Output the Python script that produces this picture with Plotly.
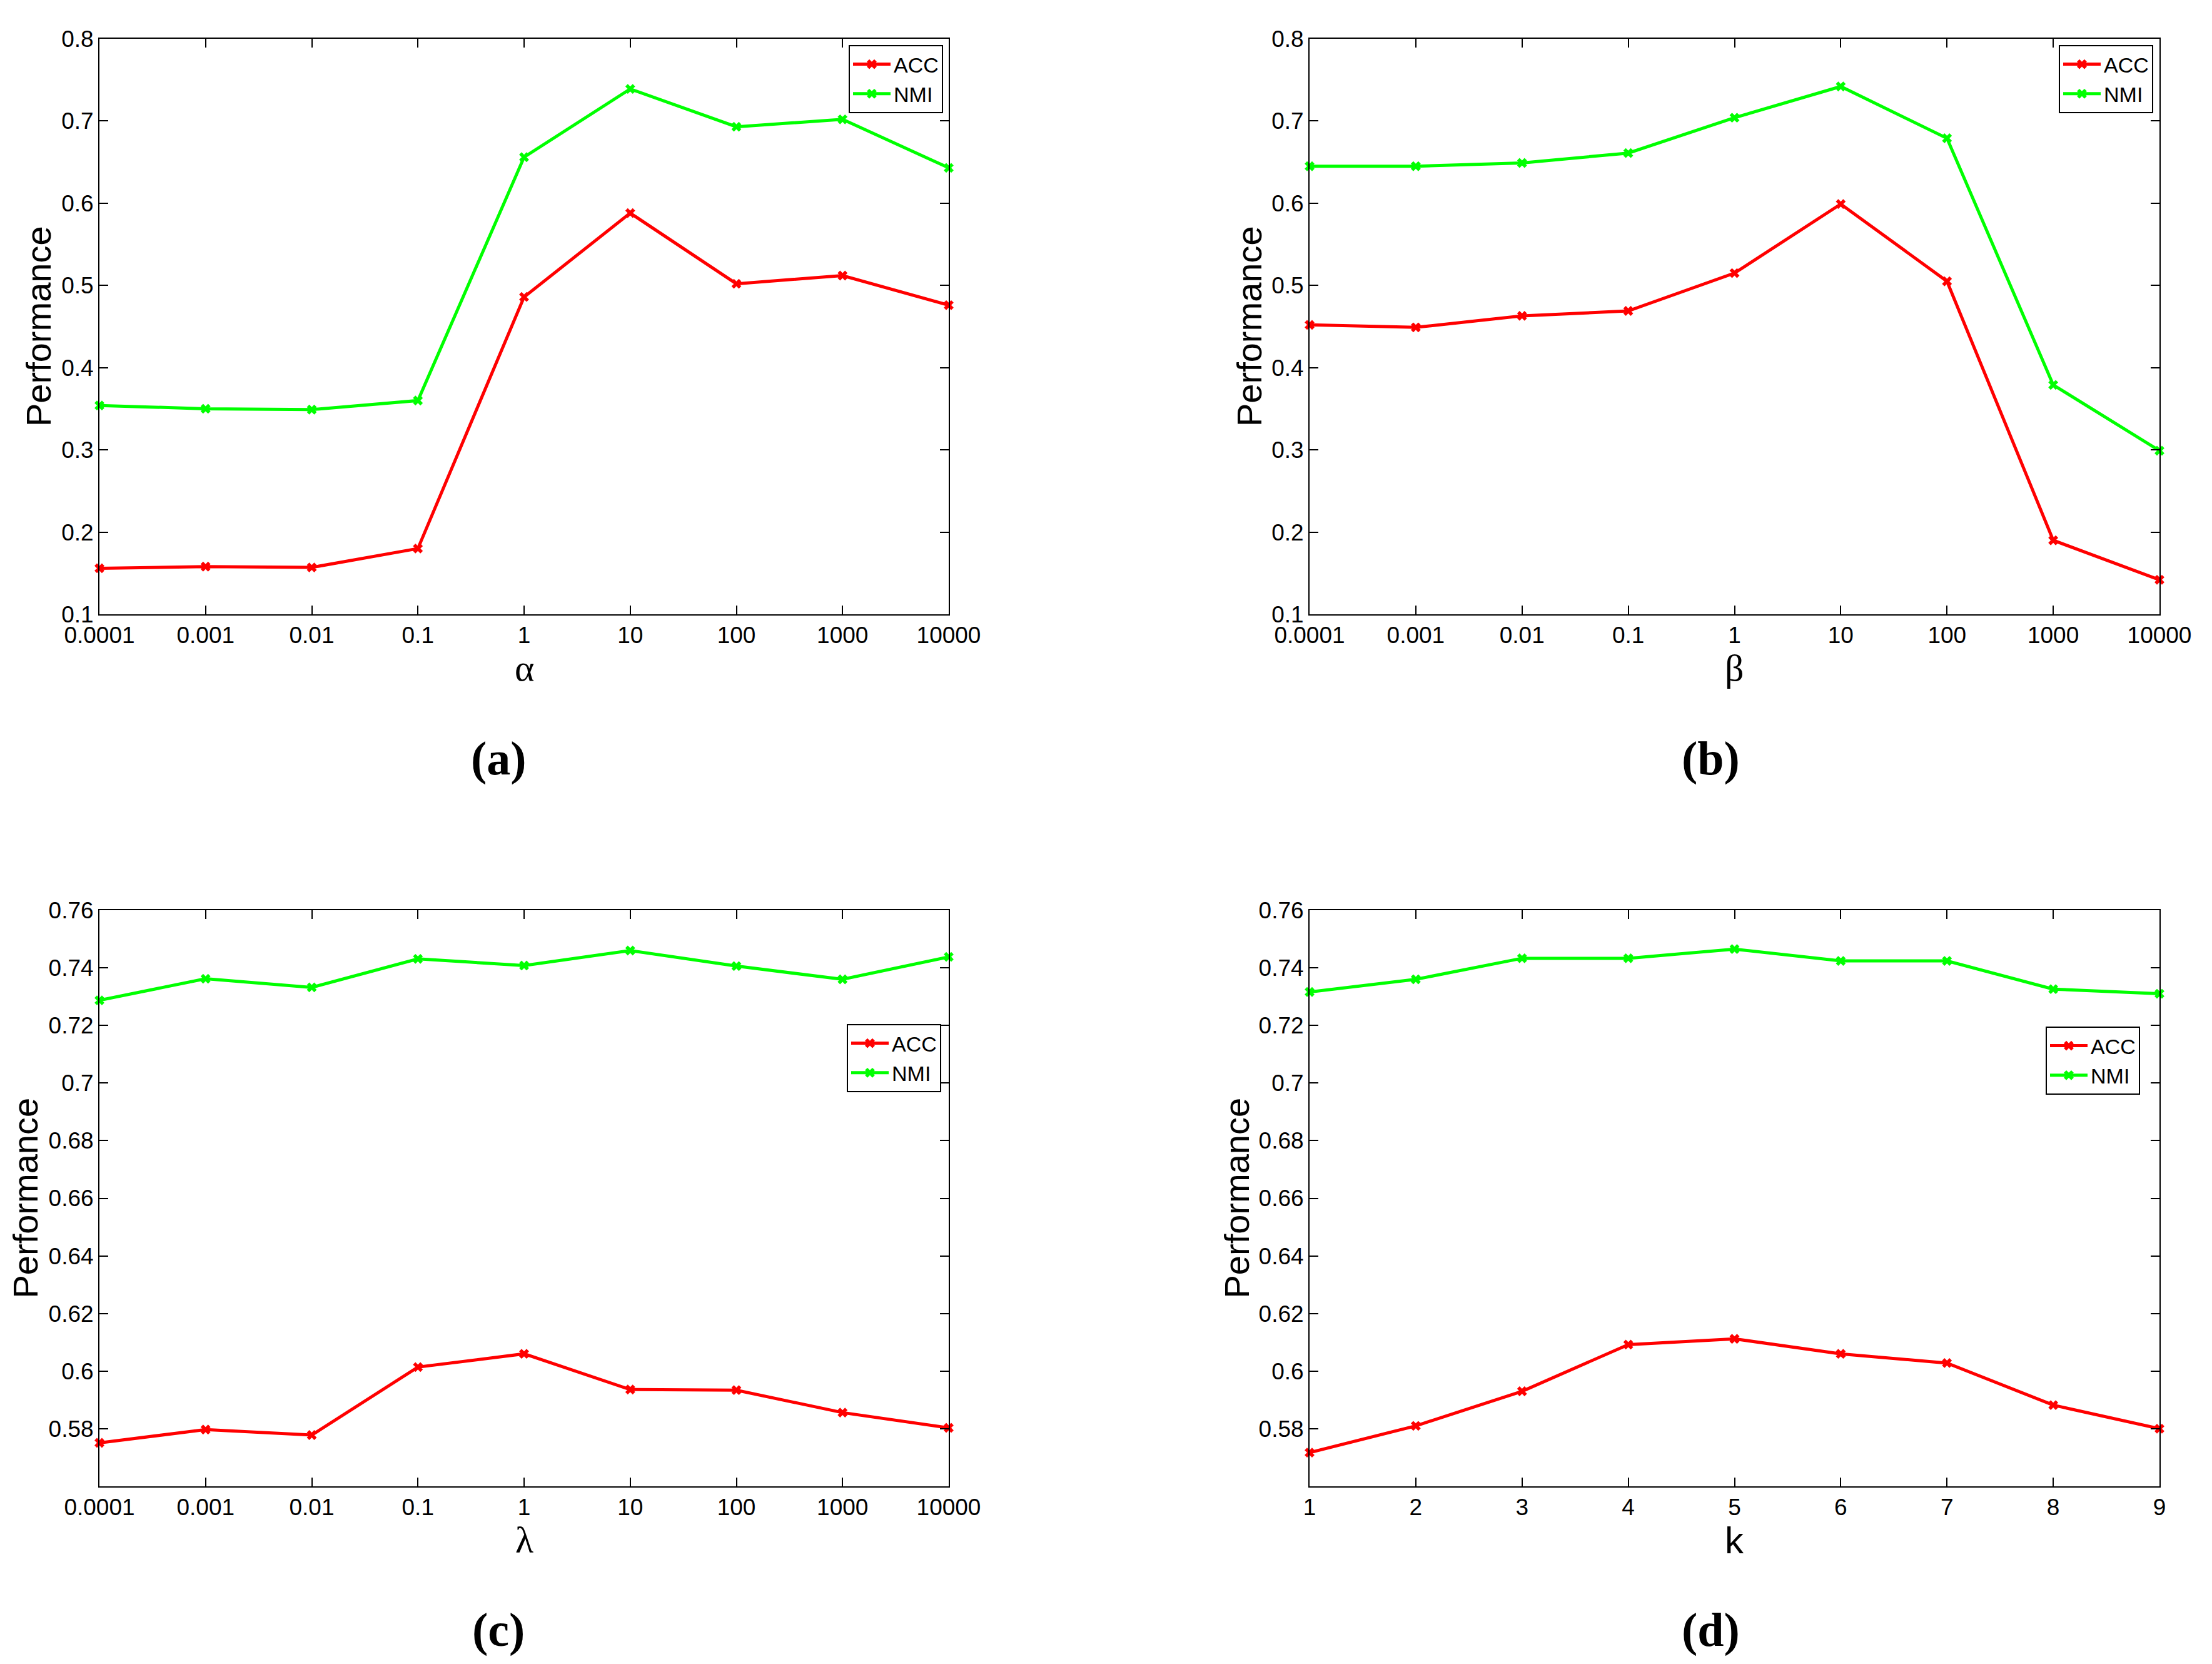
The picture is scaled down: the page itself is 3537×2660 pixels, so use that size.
import plotly.graph_objects as go

# parameter grids
log_x = [0.0001, 0.001, 0.01, 0.1, 1, 10, 100, 1000, 10000]
log_labels = ['0.0001', '0.001', '0.01', '0.1', '1', '10', '100', '1000', '10000']
k_x = [1, 2, 3, 4, 5, 6, 7, 8, 9]
k_labels = ['1', '2', '3', '4', '5', '6', '7', '8', '9']

# (a) alpha
acc_alpha = [0.156, 0.158, 0.157, 0.180, 0.486, 0.588, 0.502, 0.512, 0.476]
nmi_alpha = [0.354, 0.350, 0.349, 0.360, 0.656, 0.739, 0.693, 0.702, 0.643]
# (b) beta
acc_beta = [0.452, 0.449, 0.463, 0.469, 0.515, 0.599, 0.505, 0.190, 0.142]
nmi_beta = [0.645, 0.645, 0.649, 0.661, 0.704, 0.742, 0.679, 0.379, 0.299]
# (c) lambda
acc_lambda = [0.5751, 0.5797, 0.5778, 0.6014, 0.6060, 0.5936, 0.5934, 0.5856, 0.5803]
nmi_lambda = [0.7287, 0.7362, 0.7332, 0.7431, 0.7408, 0.7460, 0.7406, 0.7360, 0.7438]
# (d) k
acc_k = [0.5717, 0.5810, 0.5930, 0.6092, 0.6112, 0.6060, 0.6028, 0.5882, 0.5800]
nmi_k = [0.7316, 0.7360, 0.7433, 0.7433, 0.7465, 0.7424, 0.7424, 0.7326, 0.7310]

ticks_top = [0.1, 0.2, 0.3, 0.4, 0.5, 0.6, 0.7, 0.8]
ticks_bot = [0.58, 0.60, 0.62, 0.64, 0.66, 0.68, 0.70, 0.72, 0.74, 0.76]
tick_text_bot = ['0.58', '0.6', '0.62', '0.64', '0.66', '0.68', '0.7', '0.72', '0.74', '0.76']

W, H = 3537, 2660
OFF = 8  # page body margin
SANS = 'Liberation Sans, Arial, sans-serif'
SERIF = 'Liberation Serif, Times New Roman, serif'


def px(x):
    return (x - OFF) / W


def py(y):
    return 1 - (y - OFF) / H


panels = [
    dict(xs=log_x, xl=log_labels, acc=acc_alpha, nmi=nmi_alpha, title='α', tfont=SERIF,
         dom_x=(159, 1517), dom_y=(62, 982), yr=(0.1, 0.8), yt=ticks_top, ytt=None,
         ytitle_x=61, leg=(1508, 72), tag='(a)', tag_pos=(797, 1212)),
    dict(xs=log_x, xl=log_labels, acc=acc_beta, nmi=nmi_beta, title='β', tfont=SERIF,
         dom_x=(2094, 3453), dom_y=(62, 982), yr=(0.1, 0.8), yt=ticks_top, ytt=None,
         ytitle_x=1997, leg=(3443, 72), tag='(b)', tag_pos=(2735, 1212)),
    dict(xs=log_x, xl=log_labels, acc=acc_lambda, nmi=nmi_lambda, title='λ', tfont=SERIF,
         dom_x=(159, 1517), dom_y=(1455, 2376), yr=(0.56, 0.76), yt=ticks_bot, ytt=tick_text_bot,
         ytitle_x=40, leg=(1505, 1637), tag='(c)', tag_pos=(797, 2605)),
    dict(xs=k_x, xl=k_labels, acc=acc_k, nmi=nmi_k, title='k', tfont=SANS,
         dom_x=(2094, 3453), dom_y=(1455, 2376), yr=(0.56, 0.76), yt=ticks_bot, ytt=tick_text_bot,
         ytitle_x=1977, leg=(3422, 1641), tag='(d)', tag_pos=(2735, 2605)),
]

fig = go.Figure()
layout = dict(width=W, height=H, margin=dict(l=0, r=0, t=0, b=0, autoexpand=False),
              paper_bgcolor='white', plot_bgcolor='white',
              font=dict(family=SANS, color='black'), showlegend=True, annotations=[])

for i, p in enumerate(panels, start=1):
    sfx = '' if i == 1 else str(i)
    leg_name = 'legend' + sfx
    for name, vals, col in [('ACC', p['acc'], '#ff0000'), ('NMI', p['nmi'], '#00ff00')]:
        fig.add_trace(go.Scatter(
            x=p['xs'], y=vals, name=name, mode='lines+markers',
            line=dict(color=col, width=5),
            marker=dict(symbol='x', size=14, color=col),
            xaxis='x' + sfx, yaxis='y' + sfx, legend=leg_name, cliponaxis=False))

    is_log = p['xs'] is log_x
    layout['xaxis' + sfx] = dict(
        domain=[px(p['dom_x'][0]), px(p['dom_x'][1])], anchor='y' + sfx,
        type='log' if is_log else 'linear',
        range=[-4, 4] if is_log else [1, 9],
        tickvals=p['xs'], ticktext=p['xl'], automargin=False,
        ticks='inside', ticklen=14, tickwidth=2, tickcolor='black',
        showline=True, linecolor='black', linewidth=2, mirror='allticks',
        showgrid=False, zeroline=False,
        tickfont=dict(family=SANS, size=37, color='black'))
    layout['yaxis' + sfx] = dict(
        domain=[py(p['dom_y'][1]), py(p['dom_y'][0])], anchor='x' + sfx,
        range=list(p['yr']), tickvals=p['yt'], automargin=False,
        ticktext=p['ytt'] if p['ytt'] else [f'{v:g}' for v in p['yt']],
        ticks='inside', ticklen=14, tickwidth=2, tickcolor='black',
        showline=True, linecolor='black', linewidth=2, mirror='allticks',
        showgrid=False, zeroline=False,
        tickfont=dict(family=SANS, size=37, color='black'))
    layout[leg_name] = dict(
        x=px(p['leg'][0]), y=py(p['leg'][1]), xanchor='right', yanchor='top',
        xref='paper', yref='paper',
        bgcolor='white', bordercolor='black', borderwidth=2,
        font=dict(family=SANS, size=34, color='black'), itemwidth=60,
        tracegroupgap=0)

    # axis titles and panel tag
    mid_x = (p['dom_x'][0] + p['dom_x'][1]) / 2
    mid_y = (p['dom_y'][0] + p['dom_y'][1]) / 2
    layout['annotations'] += [
        dict(text=p['title'], x=px(mid_x), y=py(p['dom_y'][1] + 86),
             xref='paper', yref='paper', xanchor='center', yanchor='middle', showarrow=False,
             font=dict(family=p['tfont'], size=60, color='black')),
        dict(text='Performance', x=px(p['ytitle_x']), y=py(mid_y), textangle=-90,
             xref='paper', yref='paper', xanchor='center', yanchor='middle', showarrow=False,
             font=dict(family=SANS, size=56, color='black')),
        dict(text='<b>' + p['tag'] + '</b>', x=px(p['tag_pos'][0]), y=py(p['tag_pos'][1]),
             xref='paper', yref='paper', xanchor='center', yanchor='middle', showarrow=False,
             font=dict(family=SERIF, size=76, color='black')),
    ]

fig.update_layout(**layout)
fig.write_html("out.html")
